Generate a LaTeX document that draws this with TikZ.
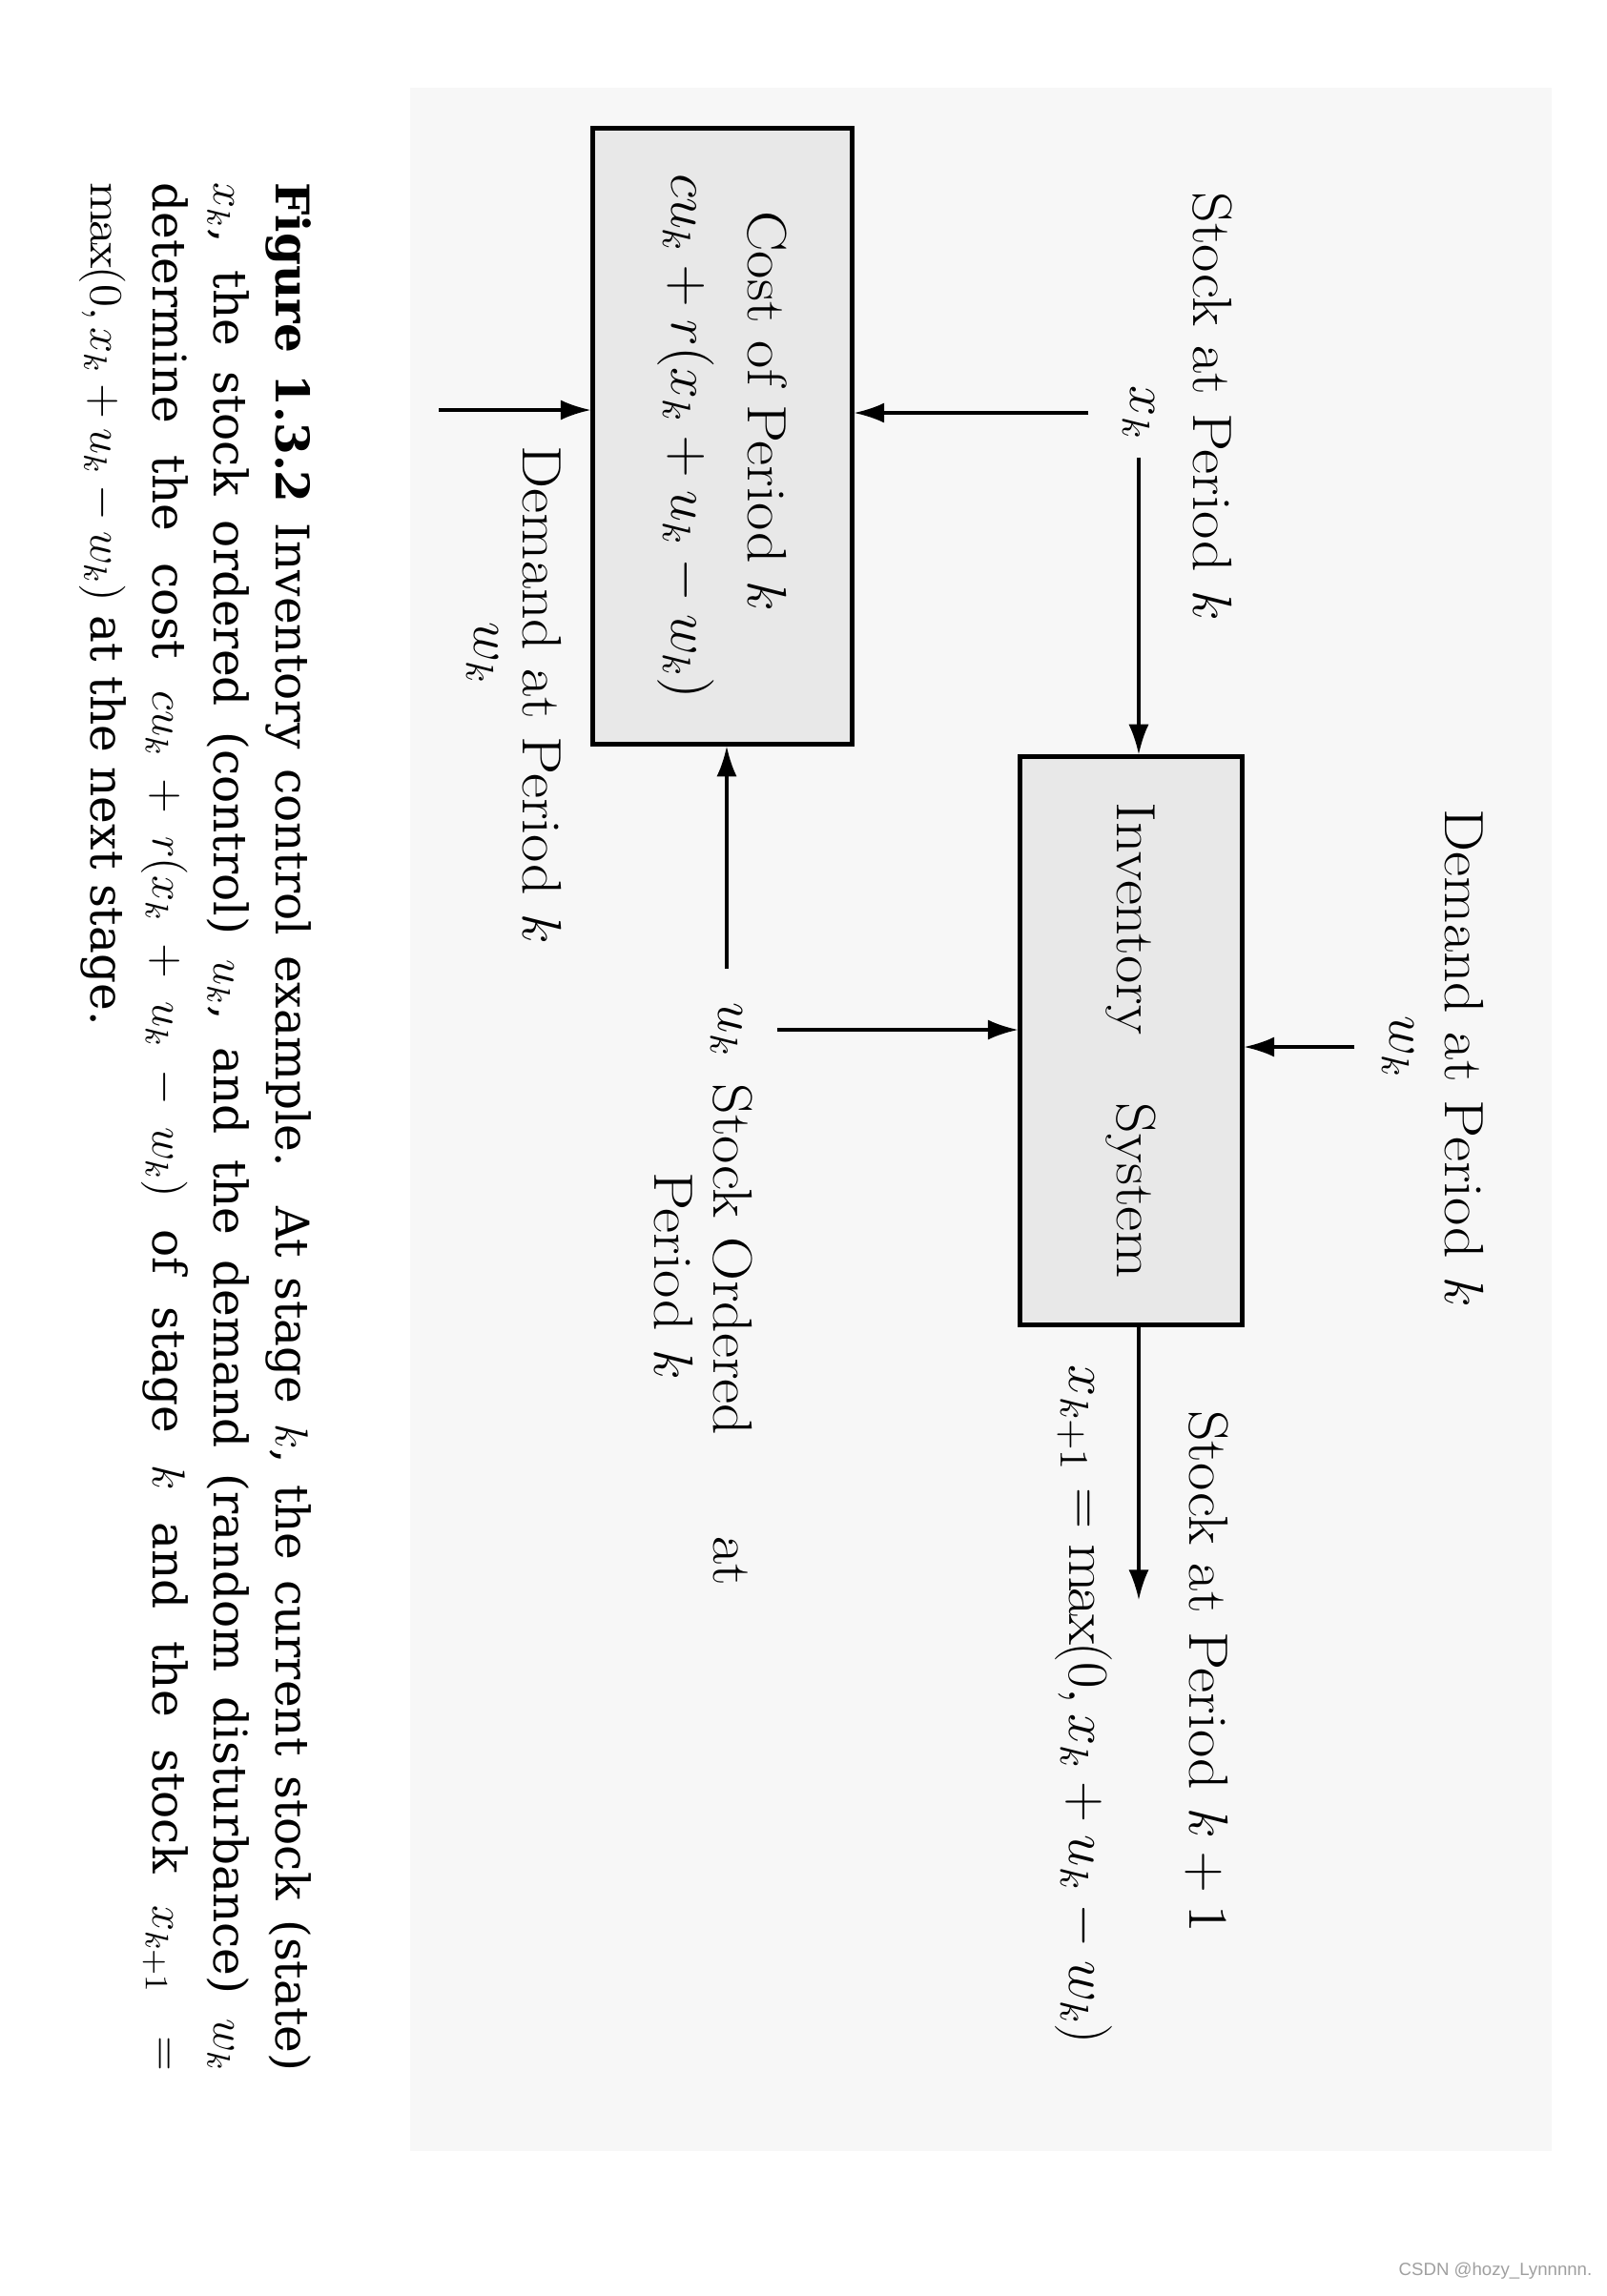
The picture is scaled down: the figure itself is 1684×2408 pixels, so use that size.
\RequirePackage{fix-cm}
\documentclass[tikz,border=0pt]{standalone}
\usepackage{fontspec}
\setmainfont{Latin Modern Roman}[FakeStretch=1.1]
\newfontfamily\capfont{DejaVu Serif}
\newfontfamily\wmfont{Liberation Sans}
\usetikzlibrary{arrows.meta}
\begin{document}
\begin{tikzpicture}[x={(0.01cm,0)}, y={(0,-0.01cm)},
  lab/.style={rotate=-90, font=\fontsize{16.5}{19}\selectfont, inner sep=2pt},
  blk/.style={rotate=-90, draw, line width=1.4pt, fill=gray!18, font=\fontsize{16.5}{19}\selectfont, align=center, inner sep=0pt},
  arr/.style={-{Latex[length=9pt,width=6pt]}, line width=0.9pt}]
\useasboundingbox (0,0) rectangle (1684,2408);
\fill[gray!6] (430,92) rectangle (1627,2256);

\node[blk, minimum width=5.95cm, minimum height=2.32cm] (inv) at (1186,1091.5) {Inventory\hspace{0.9em} System};
\node[blk, minimum width=6.45cm, minimum height=2.71cm] (cost) at (757.5,457.5) {Cost of Period $k$\hspace*{0.9em}\\[4pt] {\fontsize{16.8}{19}\selectfont $cu_k + r(x_k + u_k - w_k)$}};

\node[lab] (sk) at (1271,426) {Stock at Period $k$};
\node[lab] (xk) at (1194,433) {$x_k$};
\node[lab] (dk) at (1535,1110) {Demand at Period $k$};
\node[lab] (dw) at (1466,1098) {$w_k$};
\node[lab] (uk) at (762,1080) {$u_k$};
\node[lab] (so) at (768,1400) {Stock Ordered\hspace{1.5em} at};
\node[lab] (sp) at (706,1338) {Period $k$};
\node[lab] (cd) at (568,729) {Demand at Period $k$};
\node[lab] (cw) at (506,685) {$w_k$};
\node[lab] (sk1) at (1266,1753) {Stock at Period $k+1$};
\node[lab, font=\fontsize{17}{19}\selectfont] (xk1) at (1136,1788) {$x_{k+1} = \max(0, x_k + u_k - w_k)$};

\coordinate (cin) at (460,430);
\coordinate (out) at (1194,1678);

\draw[arr, shorten <=3pt] (xk) -- (xk |- inv.west);
\draw[arr, shorten <=8pt] (xk) -- (xk -| cost.north);
\draw[arr, shorten <=6pt] (dw) -- (dw -| inv.north);
\draw[arr, shorten <=8pt] (uk) -- (uk -| inv.south);
\draw[arr, shorten <=8pt] (uk) -- (uk |- cost.east);
\draw[arr] (cin) -- (cin -| cost.south);
\draw[arr] (out |- inv.east) -- (out);

\node[rotate=-90, text width=19.8cm, align=justify, font=\capfont\fontsize{13.8}{18.4}\selectfont, inner sep=0pt] (cap) at (205,1182) {\textbf{Figure 1.3.2} Inventory control example.\ \ At stage $k$, the current stock (state)\linebreak $x_k$, the stock ordered (control) $u_k$, and the demand (random disturbance) $w_k$\linebreak determine the cost $cu_k + r(x_k+u_k-w_k)$ of stage $k$ and the stock $x_{k+1} =$\linebreak $\max(0, x_k+u_k-w_k)$ at the next stage.};

\node[anchor=east, font=\wmfont\fontsize{5.3}{6}\selectfont, text=gray!75, inner sep=0pt] (wm) at (1670,2382) {CSDN @hozy\_Lynnnnn.};
\end{tikzpicture}
\end{document}
